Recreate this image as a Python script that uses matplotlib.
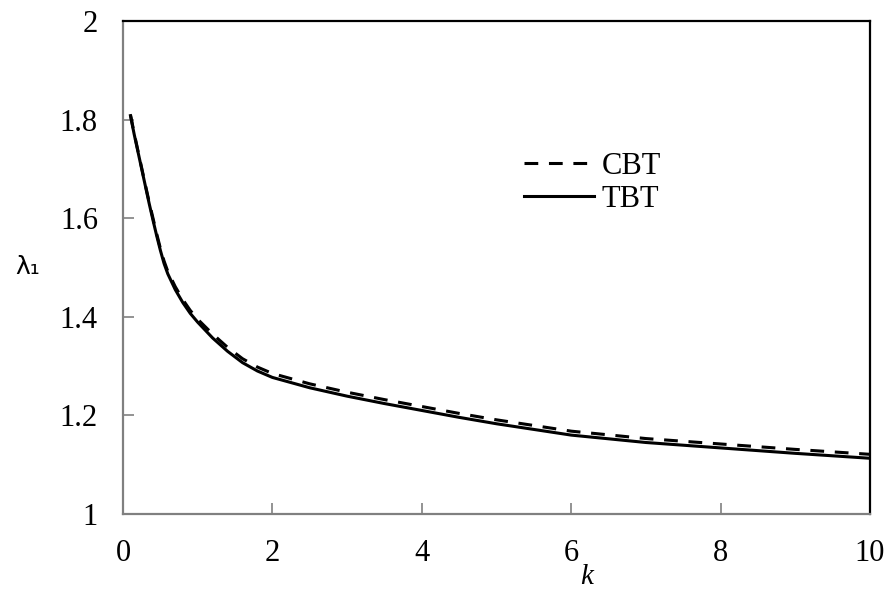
import matplotlib

matplotlib.use("Agg")
import matplotlib.pyplot as plt

# eigenvalue vs k
k = [0.1, 0.15, 0.2, 0.25, 0.3, 0.35, 0.4, 0.45, 0.5, 0.55, 0.6, 0.7, 0.8,
     0.9, 1.0, 1.2, 1.4, 1.6, 1.8, 2.0, 2.5, 3.0, 3.5, 4.0, 4.5, 5.0, 6.0,
     7.0, 8.0, 9.0, 10.0]
tbt = [1.808, 1.77, 1.735, 1.70, 1.665, 1.63, 1.597, 1.565, 1.535, 1.508,
       1.487, 1.455, 1.429, 1.407, 1.389, 1.357, 1.33, 1.307, 1.29, 1.277,
       1.256, 1.239, 1.224, 1.21, 1.196, 1.183, 1.16, 1.145, 1.134, 1.123,
       1.113]
cbt = [1.81, 1.772, 1.737, 1.702, 1.667, 1.633, 1.601, 1.569, 1.539, 1.513,
       1.492, 1.461, 1.435, 1.413, 1.395, 1.365, 1.338, 1.315, 1.298, 1.285,
       1.264, 1.247, 1.232, 1.218, 1.204, 1.191, 1.168, 1.153, 1.142, 1.131,
       1.121]

xticks = [0, 2, 4, 6, 8, 10]
yticks = [1, 1.2, 1.4, 1.6, 1.8, 2]
ytick_labels = ["1", "1.2", "1.4", "1.6", "1.8", "2"]

plt.rcParams["font.family"] = ["Liberation Serif", "DejaVu Serif"]

fig = plt.figure(figsize=(8.9, 5.92), dpi=100)
ax = fig.add_axes([0.1382, 0.1318, 0.8393, 0.8327])

ax.plot(k, cbt, color="black", lw=2.2, dashes=(4.5, 3.5), label="CBT")
ax.plot(k, tbt, color="black", lw=2.2, label="TBT")

ax.set_xlim(0, 10)
ax.set_ylim(1, 2)
ax.set_xticks(xticks)
ax.set_xticklabels([str(t) for t in xticks])
ax.set_yticks(yticks)
ax.set_yticklabels(ytick_labels)
ax.tick_params(direction="in", length=8, width=1.2, color="#808080",
               labelsize=22, pad=18)

for side in ["left", "bottom"]:
    ax.spines[side].set_color("#808080")
    ax.spines[side].set_linewidth(1.6)
for side in ["top", "right"]:
    ax.spines[side].set_color("black")
    ax.spines[side].set_linewidth(1.6)

# k sits just under the "6" label, a little to the right
ax.set_xlabel("k", fontsize=21, style="italic", va="center")
ax.xaxis.set_label_coords(0.621, -0.128)
ax.set_ylabel("λ₁", fontsize=18, rotation=0, family=["DejaVu Sans"],
              ha="center", va="center")
ax.yaxis.set_label_coords(-0.127, 0.50)

ax.legend(loc="upper left", bbox_to_anchor=(0.52, 0.76), frameon=False,
          fontsize=22, handlelength=2.3, handletextpad=0.25, labelspacing=0.15,
          borderaxespad=0)

fig.savefig("out.png", dpi=100)
